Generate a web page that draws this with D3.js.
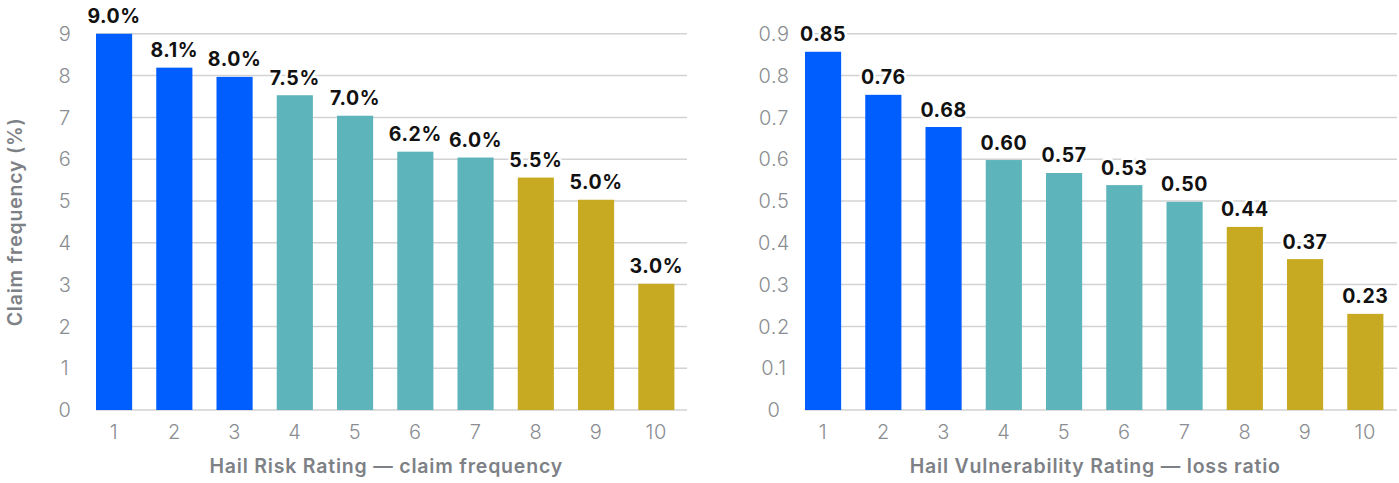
<!DOCTYPE html>
<html><head><meta charset="utf-8">
<script src="https://cdn.jsdelivr.net/npm/d3@7"></script>
<style>
html,body{margin:0;padding:0;background:#fff;}
svg{display:block;font-family:Inter,"Noto Sans",sans-serif;}
</style></head>
<body><svg id="c" width="1399" height="483"></svg>
<script>
const ratings = ["1","2","3","4","5","6","7","8","9","10"];
const freqValues = [9.0, 8.19, 7.97, 7.53, 7.04, 6.18, 6.04, 5.56, 5.03, 3.02];
const freqLabels = ["9.0%","8.1%","8.0%","7.5%","7.0%","6.2%","6.0%","5.5%","5.0%","3.0%"];
const freqTicks = [0,1,2,3,4,5,6,7,8,9];
const lossValues = [0.857, 0.754, 0.677, 0.598, 0.567, 0.538, 0.498, 0.438, 0.361, 0.23];
const lossLabels = ["0.85","0.76","0.68","0.60","0.57","0.53","0.50","0.44","0.37","0.23"];
const lossTicks = [0,0.1,0.2,0.3,0.4,0.5,0.6,0.7,0.8,0.9];
const tiers = ["high","high","high","mid","mid","mid","mid","low","low","low"];
const tierColor = {high:"#005EFF", mid:"#5EB4BB", low:"#C8AA22"};

const svg = d3.select("#c");

function panel(opt){
  const g = svg.append("g");
  const x = d3.scaleBand().domain(ratings)
    .range([opt.x0, opt.x0 + 60.25*9.6]).paddingInner(0.4).paddingOuter(0);
  const y = d3.scaleLinear().domain([0, opt.max]).range([410, 33.8]);
  // grid
  g.append("g").selectAll("line").data(opt.ticks).join("line")
    .attr("x1", opt.x0).attr("x2", opt.gridEnd)
    .attr("y1", d=>y(d)).attr("y2", d=>y(d))
    .attr("stroke","#d2d2d2").attr("stroke-width",1.5);
  // y tick labels
  g.append("g").selectAll("text").data(opt.ticks).join("text")
    .attr("x", opt.tickX).attr("y", d=>y(d)).attr("dy","0.36em")
    .attr("text-anchor","middle").attr("fill","#8a8d91")
    .attr("font-size",20).attr("font-weight",300).attr("letter-spacing",0.6)
    .text(d=>opt.tickFmt(d));
  // bars
  g.append("g").selectAll("rect").data(opt.values).join("rect")
    .attr("x",(d,i)=>x(ratings[i])).attr("width",x.bandwidth())
    .attr("y",d=>y(d)).attr("height",d=>y(0)-y(d))
    .attr("fill",(d,i)=>tierColor[tiers[i]]);
  // value labels
  g.append("g").selectAll("text").data(opt.values).join("text")
    .attr("x",(d,i)=>x(ratings[i])+x.bandwidth()/2).attr("y",d=>y(d)-10.5)
    .attr("text-anchor","middle").attr("fill","#111")
    .attr("font-size",19.5).attr("font-weight",650).attr("letter-spacing",0.6)
    .attr("stroke","#fff").attr("stroke-width",5).attr("stroke-linejoin","round")
    .attr("paint-order","stroke")
    .text((d,i)=>opt.labels[i]);
  // x tick labels
  g.append("g").selectAll("text").data(ratings).join("text")
    .attr("x",d=>x(d)+x.bandwidth()/2).attr("y",439)
    .attr("text-anchor","middle").attr("fill","#8a8d91")
    .attr("font-size",20).attr("font-weight",300).attr("letter-spacing",0.6)
    .text(d=>d);
  // x title
  const xr = x.range();
  g.append("text").attr("x",(xr[0]+xr[1])/2 + 1).attr("y",473)
    .attr("text-anchor","middle").attr("fill","#7d8186")
    .attr("font-size",19.5).attr("font-weight",600).attr("letter-spacing",0.8)
    .text(opt.xTitle);
  if(opt.yTitle){
    g.append("text").attr("transform",`translate(22,${(y(0)+y(opt.max))/2}) rotate(-90)`)
      .attr("text-anchor","middle").attr("fill","#7d8186")
      .attr("font-size",19.5).attr("font-weight",600).attr("letter-spacing",0.8)
      .text(opt.yTitle);
  }
}

panel({x0:96, gridEnd:687, max:9, ticks:freqTicks, values:freqValues, labels:freqLabels,
  tickX:65, tickFmt:d=>String(d), xTitle:"Hail Risk Rating — claim frequency", yTitle:"Claim frequency (%)"});
panel({x0:805, gridEnd:1397, max:0.9, ticks:lossTicks, values:lossValues, labels:lossLabels,
  tickX:774, tickFmt:d=>d===0?"0":d3.format(".1f")(d), xTitle:"Hail Vulnerability Rating — loss ratio"});
</script></body></html>
